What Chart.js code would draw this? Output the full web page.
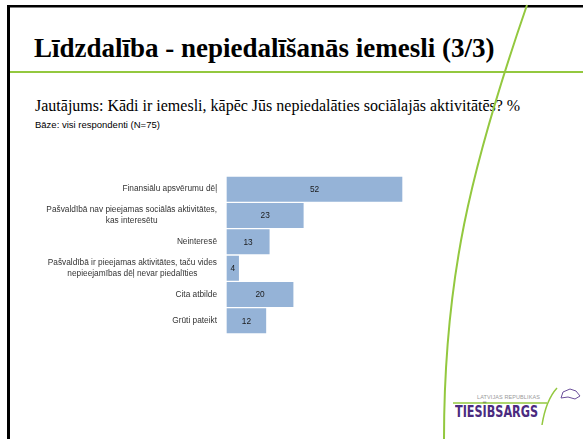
<!DOCTYPE html>
<html>
<head>
<meta charset="utf-8">
<script src="https://cdn.jsdelivr.net/npm/chart.js@4.4.1/dist/chart.umd.min.js"></script>
<style>
  body { margin: 0; background: #fff; }
  #slide { position: relative; width: 583px; height: 439px; overflow: hidden; background: #fff; }
  #title { position: absolute; left: 34px; top: 33px; font: bold 27px "Liberation Serif", "Times New Roman", serif; color: #000; white-space: nowrap; }
  #question { position: absolute; left: 35px; top: 97px; font: 16px "Liberation Serif", "Times New Roman", serif; color: #000; white-space: nowrap; }
  #base { position: absolute; left: 35px; top: 119px; font: 9.5px "Liberation Sans", Arial, sans-serif; color: #000; white-space: nowrap; }
  #chartBox { position: absolute; left: 0; top: 176px; width: 420px; height: 158px; }
  #logoSmall { position: absolute; left: 477px; top: 394px; font: 5.5px "Liberation Sans", Arial, sans-serif; color: #9a9a9a; white-space: nowrap; letter-spacing: 0.1px; }
  #logoBig { position: absolute; left: 455px; top: 404px; font: bold 16px "DejaVu Sans Condensed", "Liberation Sans", Arial, sans-serif; color: #4b2b7f; white-space: nowrap; transform: scaleX(0.78); transform-origin: left top; line-height: 16px; }
  svg { position: absolute; left: 0; top: 0; pointer-events: none; }
</style>
</head>
<body>
<div id="slide">
  <div id="title">Līdzdalība - nepiedalīšanās iemesli (3/3)</div>
  <div id="question">Jautājums: Kādi ir iemesli, kāpēc Jūs nepiedalāties sociālajās aktivitātēs? %</div>
  <div id="base">Bāze: visi respondenti (N=75)</div>
  <div id="chartBox"><canvas id="reasonsChart"></canvas></div>
  <div id="logoSmall">LATVIJAS REPUBLIKAS</div>
  <div id="logoBig">TIESĪBSARGS</div>
  <svg width="583" height="439">
    <!-- slide frame -->
    <rect x="7" y="5" width="576" height="2.5" fill="#000"/>
    <rect x="7" y="5" width="3" height="434" fill="#000"/>
    <!-- green decoration -->
    <rect x="10" y="71" width="573" height="2" fill="#93c83f"/>
    <path d="M527,5 C470,170 444,280 444,439" stroke="#93c83f" stroke-width="2" fill="none"/>
    <!-- logo lines -->
    <line x1="453" y1="403" x2="547" y2="403" stroke="#93c83f" stroke-width="1.5"/>
    <path d="M557,388 Q546,400 542,425" stroke="#93c83f" stroke-width="1.5" fill="none"/>
    <path d="M561,398 L563,392 L570,389 L576,391 L580,396 L575,399 L568,397 Z" stroke="#6b4f9a" stroke-width="1" fill="none"/>
  </svg>
</div>
<script>
// Reasons for not participating (%)
const categories = [
    'Finansiālu apsvērumu dēļ',
    ['Pašvaldībā nav pieejamas sociālās aktivitātes,', 'kas interesētu'],
    'Neinteresē',
    ['Pašvaldībā ir pieejamas aktivitātes, taču vides', 'nepieejamības dēļ nevar piedalīties'],
    'Cita atbilde',
    'Grūti pateikt'
];
const percentValues = [52, 23, 13, 4, 20, 12];

const labelFont = '8.3px "Liberation Sans", Arial, sans-serif';

// Value labels inside the bars
const valueLabels = {
    id: 'valueLabels',
    afterDatasetsDraw(chart) {
        const ctx = chart.ctx;
        const meta = chart.getDatasetMeta(0);
        ctx.save();
        ctx.font = labelFont;
        ctx.fillStyle = '#1a1a1a';
        ctx.textAlign = 'center';
        ctx.textBaseline = 'middle';
        meta.data.forEach((bar, i) => {
            ctx.fillText(String(percentValues[i]), (bar.x + bar.base) / 2, bar.y + 0.5);
        });
        ctx.restore();
    }
};

// Multi-line labels: lines centered on each other, block right-aligned
const centerMultiline = {
    id: 'centerMultiline',
    beforeDraw(chart) {
        const scale = chart.scales.y;
        const items = scale.getLabelItems(chart.chartArea);
        const ctx = chart.ctx;
        ctx.save();
        ctx.font = labelFont;
        items.forEach(item => {
            if (Array.isArray(item.label) && item.options.textAlign !== 'center') {
                const w = Math.max(...item.label.map(s => ctx.measureText(s).width));
                item.options.textAlign = 'center';
                item.options.translation[0] -= w / 2;
            }
        });
        ctx.restore();
    }
};

const reasonsCtx = document.getElementById('reasonsChart').getContext('2d');
const reasonsChart = new Chart(reasonsCtx, {
    type: 'bar',
    data: {
        labels: categories,
        datasets: [{
            data: percentValues,
            backgroundColor: '#95b3d7',
            borderColor: '#ffffff',
            borderWidth: 1,
            borderSkipped: false,
            categoryPercentage: 1,
            barPercentage: 1
        }]
    },
    options: {
        indexAxis: 'y',
        responsive: true,
        maintainAspectRatio: false,
        animation: false,
        layout: { padding: 0 },
        scales: {
            x: {
                display: false,
                min: 0,
                max: 57
            },
            y: {
                grid: { display: false, drawTicks: false },
                border: { display: false },
                afterFit: (scale) => {
                    scale.width = 226;
                    scale.paddingTop = 0;
                    scale.paddingBottom = 0;
                },
                ticks: {
                    padding: 9,
                    color: '#333333',
                    font: { family: '"Liberation Sans", Arial, sans-serif', size: 8.3, lineHeight: 1.3 }
                }
            }
        },
        plugins: {
            legend: { display: false },
            tooltip: { enabled: false }
        }
    },
    plugins: [valueLabels, centerMultiline]
});
</script>
</body>
</html>
